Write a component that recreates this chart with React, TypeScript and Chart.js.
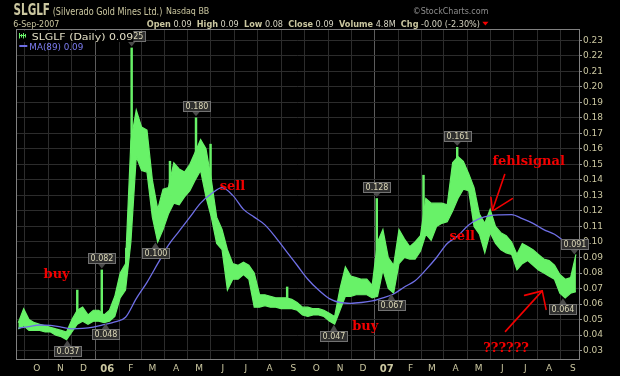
import React, { useEffect, useRef } from 'react';
import { Chart, registerables } from 'chart.js';

Chart.register(...registerables);

// ---------- data ----------
const firstWeek = '2005-09-07';
const weekLows = [
  0.044, 0.046, 0.043, 0.043, 0.043, 0.042, 0.042, 0.040, 0.039, 0.037,
  0.042, 0.047, 0.049, 0.047, 0.049, 0.049, 0.048, 0.049, 0.052, 0.064,
  0.069, 0.100, 0.155, 0.146, 0.145, 0.116, 0.100, 0.108, 0.118, 0.125,
  0.124, 0.129, 0.133, 0.140, 0.146, 0.129, 0.116, 0.099, 0.095, 0.069,
  0.076, 0.076, 0.079, 0.076, 0.058, 0.058, 0.059, 0.058, 0.058, 0.057,
  0.057, 0.057, 0.056, 0.053, 0.052, 0.053, 0.053, 0.052, 0.049, 0.047,
  0.056, 0.065, 0.065, 0.066, 0.066, 0.066, 0.064, 0.065, 0.082, 0.070,
  0.067, 0.086, 0.090, 0.089, 0.089, 0.094, 0.105, 0.101, 0.110, 0.112,
  0.113, 0.120, 0.128, 0.134, 0.133, 0.110, 0.105, 0.093, 0.106, 0.099,
  0.095, 0.093, 0.092, 0.082, 0.086, 0.088, 0.085, 0.082, 0.080, 0.078,
  0.076, 0.067, 0.064, 0.067, 0.068,
];
const weekHighs = [
  0.048, 0.057, 0.050, 0.048, 0.047, 0.046, 0.045, 0.044, 0.043, 0.042,
  0.050, 0.056, 0.058, 0.053, 0.056, 0.056, 0.053, 0.056, 0.065, 0.080,
  0.086, 0.165, 0.185, 0.174, 0.172, 0.140, 0.121, 0.134, 0.135, 0.151,
  0.147, 0.145, 0.150, 0.158, 0.166, 0.160, 0.140, 0.116, 0.108, 0.095,
  0.086, 0.085, 0.087, 0.085, 0.080, 0.066, 0.066, 0.065, 0.064, 0.064,
  0.064, 0.063, 0.061, 0.058, 0.058, 0.057, 0.057, 0.056, 0.054, 0.052,
  0.070, 0.084, 0.078, 0.077, 0.076, 0.076, 0.072, 0.100, 0.108, 0.090,
  0.085, 0.108, 0.102, 0.097, 0.100, 0.104, 0.128, 0.125, 0.125, 0.125,
  0.124, 0.151, 0.155, 0.152, 0.144, 0.135, 0.118, 0.112, 0.121, 0.110,
  0.106, 0.104, 0.100, 0.092, 0.099, 0.097, 0.095, 0.092, 0.089, 0.088,
  0.085, 0.079, 0.076, 0.077, 0.092,
];
// MA(89), one value for every second week
const maValues = [
  0.0445, 0.0455, 0.0465, 0.0462, 0.0452, 0.0440, 0.0443, 0.0452, 0.0468, 0.0485,
  0.0515, 0.0635, 0.0740, 0.0860, 0.0980, 0.1070, 0.1160, 0.1250, 0.1310, 0.1350,
  0.1300, 0.1210, 0.1160, 0.1110, 0.1030, 0.0940, 0.0850, 0.0760, 0.0690, 0.0635,
  0.0610, 0.0605, 0.0610, 0.0620, 0.0640, 0.0665, 0.0710, 0.0750, 0.0820, 0.0900,
  0.0990, 0.1040, 0.1110, 0.1150, 0.1170, 0.1175, 0.1176, 0.1150, 0.1120, 0.1080,
  0.1050, 0.1000, 0.0970,
];
const spikeDates = ['2005-11-23', '2005-12-25', '2006-01-26', '2006-02-02', '2006-03-24', '2006-04-27', '2006-05-16', '2006-08-24', '2006-12-19', '2007-02-18', '2007-04-03'];
const spikeLows = [0.052, 0.050, 0.080, 0.160, 0.130, 0.150, 0.125, 0.062, 0.075, 0.110, 0.140];
const spikeHighs = [0.069, 0.082, 0.096, 0.225, 0.152, 0.180, 0.163, 0.071, 0.128, 0.143, 0.161];

const monthStarts = [
  '2005-10-01', '2005-11-01', '2005-12-01', '2006-01-01', '2006-02-01', '2006-03-01', '2006-04-01', '2006-05-01',
  '2006-06-01', '2006-07-01', '2006-08-01', '2006-09-01', '2006-10-01', '2006-11-01', '2006-12-01', '2007-01-01',
  '2007-02-01', '2007-03-01', '2007-04-01', '2007-05-01', '2007-06-01', '2007-07-01', '2007-08-01', '2007-09-01',
];
const monthLabels = ['O', 'N', 'D', '06', 'F', 'M', 'A', 'M', 'J', 'J', 'A', 'S', 'O', 'N', 'D', '07', 'F', 'M', 'A', 'M', 'J', 'J', 'A', 'S'];
const yTicks = [0.03, 0.04, 0.05, 0.06, 0.07, 0.08, 0.09, 0.10, 0.11, 0.12, 0.13, 0.14, 0.15, 0.16, 0.17, 0.18, 0.19, 0.20, 0.21, 0.22, 0.23];
const xFirst = '2005-09-04';
const xLast = '2007-09-09';
const yLow = 0.0246;
const yHigh = 0.2372;

const labelDates = ['2006-02-02', '2005-12-25', '2005-11-10', '2005-12-30', '2006-03-05', '2006-04-27', '2006-10-24', '2006-12-19', '2007-01-07', '2007-04-03', '2007-09-03', '2007-08-19'];
const labelValues = [0.225, 0.082, 0.037, 0.048, 0.100, 0.180, 0.047, 0.128, 0.067, 0.161, 0.091, 0.064];
const labelIsHigh = [true, true, false, false, false, true, false, true, false, true, true, false];

const noteTexts = ['buy', 'sell', 'buy', 'sell', 'fehlsignal', '??????'];
const noteDates = ['2005-10-10', '2006-05-28', '2006-11-17', '2007-03-24', '2007-05-19', '2007-05-07'];
const noteValues = [0.0769, 0.1334, 0.0430, 0.1014, 0.1498, 0.0288];

const arrowPaths: [string, number][][] = [
  [['2007-06-04', 0.1434], ['2007-05-19', 0.1205]],
  [['2007-05-17', 0.1288], ['2007-05-19', 0.1205]],
  [['2007-06-14', 0.1279], ['2007-05-21', 0.1205]],
  [['2007-06-05', 0.0424], ['2007-07-23', 0.0685]],
  [['2007-06-30', 0.0656], ['2007-07-23', 0.0685], ['2007-07-28', 0.0566]],
];

// ---------- style ----------
const GREEN = '#68f268';
const BLUE = '#6f6fe6';
const TAN = '#cbc7a0';
const RED = '#f20000';

function day(s: string): number {
  const [y, m, d] = s.split('-').map(Number);
  return Date.UTC(y, m - 1, d) / 86400000;
}

const weekDays = weekLows.map((_, i) => day(firstWeek) + 7 * i);

function fitText(ctx: CanvasRenderingContext2D, text: string, x: number, y: number, width: number, font: string, color: string) {
  ctx.save();
  ctx.font = font;
  const w = ctx.measureText(text).width;
  ctx.translate(x, y);
  ctx.scale(width / w, 1);
  ctx.fillStyle = color;
  ctx.textBaseline = 'alphabetic';
  ctx.textAlign = 'left';
  ctx.fillText(text, 0, 0);
  ctx.restore();
}

function fitRun(ctx: CanvasRenderingContext2D, parts: { t: string; f: string; c: string }[], x: number, y: number, width: number) {
  ctx.save();
  let total = 0;
  const ws = parts.map((p) => {
    ctx.font = p.f;
    const w = ctx.measureText(p.t).width;
    total += w;
    return w;
  });
  ctx.translate(x, y);
  ctx.scale(width / total, 1);
  ctx.textBaseline = 'alphabetic';
  let cx = 0;
  parts.forEach((p, i) => {
    ctx.font = p.f;
    ctx.fillStyle = p.c;
    ctx.fillText(p.t, cx, 0);
    cx += ws[i];
  });
  ctx.restore();
}

function drawValueLabel(ctx: CanvasRenderingContext2D, px: number, py: number, text: string, high: boolean) {
  ctx.save();
  ctx.font = '8px "DejaVu Sans"';
  const tw = ctx.measureText(text).width;
  const bw = Math.round(tw + 4);
  const bh = 10;
  const tipY = high ? py - 1.5 : py + 0.5;
  const by = Math.round(high ? tipY - 5 - bh : tipY + 6) + 0.5;
  const bx = Math.round(px - bw / 2) + 0.5;
  ctx.fillStyle = '#4a4a4a';
  ctx.beginPath();
  const baseY = high ? by + bh : by;
  ctx.moveTo(px - 4, baseY);
  ctx.lineTo(px + 4, baseY);
  ctx.lineTo(px, tipY);
  ctx.closePath();
  ctx.fill();
  ctx.fillStyle = '#2f2f2f';
  ctx.fillRect(bx, by, bw, bh);
  ctx.strokeStyle = '#727272';
  ctx.lineWidth = 1;
  ctx.strokeRect(bx, by, bw, bh);
  ctx.fillStyle = '#dcd8b8';
  ctx.textAlign = 'center';
  ctx.textBaseline = 'middle';
  ctx.fillText(text, bx + bw / 2, by + bh / 2 + 0.5);
  ctx.restore();
}

const overlayPlugin = {
  id: 'overlay',
  beforeDraw(chart: any) {
    const ctx = chart.ctx as CanvasRenderingContext2D;
    ctx.save();
    ctx.fillStyle = '#000';
    ctx.fillRect(0, 0, chart.width, chart.height);
    ctx.restore();
  },
  afterDraw(chart: any) {
    const ctx = chart.ctx as CanvasRenderingContext2D;
    const xs = chart.scales.x;
    const ys = chart.scales.y;
    const a = chart.chartArea;
    ctx.save();

    // plot frame
    ctx.strokeStyle = '#808080';
    ctx.lineWidth = 1;
    ctx.strokeRect(a.left + 0.5, a.top + 0.5, a.right - a.left, a.bottom - a.top);

    // header
    fitText(ctx, 'SLGLF', 13.5, 15, 36.5, 'bold 16px "DejaVu Sans"', TAN);
    fitText(ctx, '(Silverado Gold Mines Ltd.)', 52.7, 14.7, 109.6, '10px "DejaVu Sans"', TAN);
    fitText(ctx, 'Nasdaq BB', 166, 14, 43.3, '8px "DejaVu Sans"', TAN);
    fitText(ctx, '\u00a9StockCharts.com', 412.7, 14, 75.7, '9px "DejaVu Sans"', '#8e8e8e');
    fitText(ctx, '6-Sep-2007', 13.3, 26.7, 46, '9px "DejaVu Sans"', TAN);
    const B = 'bold 9px "DejaVu Sans"';
    const N = '9px "DejaVu Sans"';
    const V = '#d4d2c0';
    fitRun(ctx, [
      { t: 'Open', f: B, c: TAN }, { t: ' 0.09  ', f: N, c: V },
      { t: 'High', f: B, c: TAN }, { t: ' 0.09  ', f: N, c: V },
      { t: 'Low', f: B, c: TAN }, { t: ' 0.08  ', f: N, c: V },
      { t: 'Close', f: B, c: TAN }, { t: ' 0.09  ', f: N, c: V },
      { t: 'Volume', f: B, c: TAN }, { t: ' 4.8M  ', f: N, c: V },
      { t: 'Chg', f: B, c: TAN }, { t: ' -0.00 (-2.30%)', f: N, c: V },
    ], 146.7, 26.7, 333.3);
    ctx.fillStyle = RED;
    ctx.beginPath();
    ctx.moveTo(482.3, 21.8);
    ctx.lineTo(488.5, 21.8);
    ctx.lineTo(485.4, 25.6);
    ctx.closePath();
    ctx.fill();

    // value labels
    labelDates.forEach((d, i) => {
      const px = xs.getPixelForValue(day(d));
      const py = ys.getPixelForValue(labelValues[i]);
      drawValueLabel(ctx, px, py, labelValues[i].toFixed(3), labelIsHigh[i]);
    });

    // legend
    ctx.fillStyle = '#000';
    ctx.fillRect(a.left + 1, a.top + 2, 133.3 - a.left - 1, 11);
    ctx.strokeStyle = GREEN;
    ctx.lineWidth = 1;
    [19.5, 21.5, 23.5, 25.5].forEach((x, k) => {
      ctx.beginPath();
      ctx.moveTo(x, 33 + (k % 2));
      ctx.lineTo(x, 38.5 - (k % 2));
      ctx.stroke();
    });
    ctx.beginPath();
    ctx.moveTo(19, 35.5);
    ctx.lineTo(26, 35.5);
    ctx.stroke();
    fitText(ctx, 'SLGLF (Daily) 0.09', 31.7, 40, 101.6, '9px "DejaVu Sans"', '#e2dec4');
    ctx.strokeStyle = BLUE;
    ctx.lineWidth = 2;
    ctx.beginPath();
    ctx.moveTo(19.3, 46);
    ctx.lineTo(27.3, 46);
    ctx.stroke();
    fitText(ctx, 'MA(89) 0.09', 29.3, 50, 54, '9px "DejaVu Sans"', '#7d7df2');

    // notes
    ctx.fillStyle = RED;
    ctx.font = 'bold 13px "DejaVu Serif"';
    ctx.textBaseline = 'alphabetic';
    ctx.textAlign = 'left';
    noteTexts.forEach((t, i) => {
      ctx.fillText(t, xs.getPixelForValue(day(noteDates[i])), ys.getPixelForValue(noteValues[i]));
    });

    // arrows
    ctx.strokeStyle = RED;
    ctx.lineWidth = 1.6;
    ctx.lineCap = 'round';
    ctx.lineJoin = 'round';
    arrowPaths.forEach((path) => {
      ctx.beginPath();
      path.forEach(([d, v], k) => {
        const px = xs.getPixelForValue(day(d));
        const py = ys.getPixelForValue(v);
        if (k === 0) ctx.moveTo(px, py);
        else ctx.lineTo(px, py);
      });
      ctx.stroke();
    });

    ctx.restore();
  },
};

export default function App() {
  const ref = useRef<HTMLCanvasElement | null>(null);
  useEffect(() => {
    document.body.style.margin = '0';
    document.body.style.background = '#000';
    const canvas = ref.current;
    if (!canvas) return;
    const chart = new Chart(canvas, {
      type: 'bar',
      data: {
        datasets: [
          {
            type: 'line',
            label: 'MA(89)',
            data: maValues.map((v, k) => ({ x: weekDays[2 * k], y: v })),
            borderColor: BLUE,
            borderWidth: 1.3,
            pointRadius: 0,
            cubicInterpolationMode: 'monotone',
            order: 0,
          } as any,
          {
            type: 'bar',
            label: 'SLGLF spikes',
            data: spikeDates.map((d, i) => ({ x: day(d), y: [spikeLows[i], spikeHighs[i]] })),
            backgroundColor: GREEN,
            borderWidth: 0,
            barThickness: 1.8,
            grouped: false,
            order: 1,
          } as any,
          {
            type: 'line',
            label: 'SLGLF high',
            data: weekHighs.map((v, i) => ({ x: weekDays[i], y: v })),
            borderColor: GREEN,
            backgroundColor: GREEN,
            borderWidth: 1.2,
            pointRadius: 0,
            tension: 0,
            fill: '+1',
            order: 2,
          } as any,
          {
            type: 'line',
            label: 'SLGLF low',
            data: weekLows.map((v, i) => ({ x: weekDays[i], y: v })),
            borderColor: GREEN,
            borderWidth: 1.2,
            pointRadius: 0,
            tension: 0,
            fill: false,
            order: 3,
          } as any,
        ],
      },
      options: {
        animation: false,
        responsive: false,
        maintainAspectRatio: false,
        events: [],
        layout: { padding: { left: 16, top: 29, right: 0, bottom: 0 } },
        plugins: { legend: { display: false }, tooltip: { enabled: false } },
        scales: {
          x: {
            type: 'linear',
            min: day(xFirst),
            max: day(xLast),
            offset: false,
            afterBuildTicks: (s: any) => {
              s.ticks = monthStarts.map((m) => ({ value: day(m) }));
            },
            afterFit: (s: any) => {
              s.height = 17;
            },
            grid: {
              color: (c: any) => (monthLabels[c.index] && monthLabels[c.index].length === 2 ? '#5c5c5c' : '#2c2c2c'),
              drawTicks: false,
              lineWidth: 1,
            },
            border: { display: false },
            ticks: {
              autoSkip: false,
              maxRotation: 0,
              padding: 4,
              color: TAN,
              font: (c: any) => {
                const yr = monthLabels[c.index] && monthLabels[c.index].length === 2;
                return { family: 'DejaVu Sans', size: yr ? 10 : 9, weight: yr ? 'bold' : 'normal' };
              },
              callback: (_v: any, i: number) => monthLabels[i],
            },
          },
          y: {
            type: 'linear',
            position: 'right',
            min: yLow,
            max: yHigh,
            afterBuildTicks: (s: any) => {
              s.ticks = yTicks.map((v) => ({ value: v }));
            },
            afterFit: (s: any) => {
              s.width = 41;
            },
            grid: { color: '#2c2c2c', tickColor: '#9a9a9a', tickLength: 3, drawTicks: true, lineWidth: 1 },
            border: { display: false },
            ticks: {
              padding: 1,
              color: TAN,
              font: { family: 'DejaVu Sans', size: 9 },
              callback: (v: any) => Number(v).toFixed(2),
            },
          },
        },
      } as any,
      plugins: [overlayPlugin],
    });
    return () => chart.destroy();
  }, []);
  return (
    <div style={{ width: 620, height: 376, background: '#000' }}>
      <canvas ref={ref} width={620} height={376} style={{ display: 'block' }} />
    </div>
  );
}
